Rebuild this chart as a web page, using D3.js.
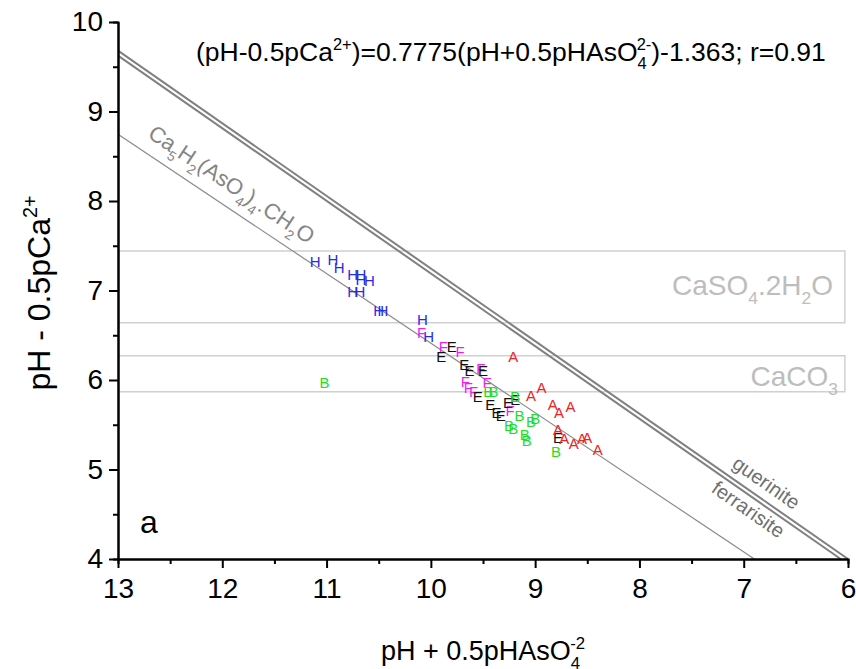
<!DOCTYPE html>
<html>
<head>
<meta charset="utf-8">
<script src="https://cdn.jsdelivr.net/npm/d3@7/dist/d3.min.js"></script>
<style>
  body { margin: 0; background: #fff; }
  svg text { font-family: "Liberation Sans", Arial, sans-serif; }
</style>
</head>
<body>
<div id="chart"></div>
<script>
var width = 856, height = 669;
var plot = { left: 118, right: 848, top: 22, bottom: 559 };

// samples, [x, y] = [pH + 0.5pHAsO4, pH - 0.5pCa]
var seriesH = [[11.11, 7.32], [10.94, 7.35], [10.88, 7.26], [10.75, 7.18], [10.67, 7.18], [10.67, 7.12],
  [10.59, 7.11], [10.75, 6.99], [10.68, 6.99], [10.50, 6.77], [10.46, 6.77], [10.08, 6.68], [10.02, 6.49]];
var seriesF = [[10.09, 6.53], [9.88, 6.37], [9.72, 6.32], [9.52, 6.13], [9.67, 5.98], [9.46, 5.97],
  [9.64, 5.91], [9.59, 5.87], [9.24, 5.66]];
var seriesE = [[9.90, 6.26], [9.80, 6.37], [9.68, 6.17], [9.63, 6.11], [9.50, 6.11], [9.55, 5.82],
  [9.43, 5.72], [9.37, 5.64], [9.33, 5.60], [9.26, 5.75], [9.19, 5.78], [8.78, 5.36]];
var seriesB = [[11.02, 5.97], [9.45, 5.87], [9.40, 5.87], [9.19, 5.81], [9.15, 5.60], [9.04, 5.54],
  [9.00, 5.57], [9.25, 5.49], [9.21, 5.46], [9.10, 5.39], [9.08, 5.32], [8.80, 5.20]];
var seriesA = [[9.21, 6.26], [8.94, 5.91], [9.04, 5.83], [8.83, 5.72], [8.77, 5.64], [8.66, 5.70],
  [8.78, 5.45], [8.72, 5.35], [8.63, 5.29], [8.55, 5.35], [8.50, 5.36], [8.40, 5.22]];

var seriesNames = ['H', 'F', 'E', 'B', 'A'];
var seriesColors = ['#2a2ae6', '#f01ef0', '#111111', '#22dd22', '#ee2222'];

// regression (pH-0.5pCa) = 0.7775 (pH+0.5pHAsO4) - 1.363
var regSlope = 0.7775, regIntercept = -1.363;
// solubility lines, end points
var guerinite = [[13, 9.68], [6.0, 4.0]];
var ferrarisite = [[13, 9.625], [6.07, 4.0]];
// horizontal bands [low, high]
var gypsumBand = [6.64, 7.44];
var calciteBand = [5.87, 6.27];
var bandEnd = 6.03;

var xTicks = [13, 12, 11, 10, 9, 8, 7, 6];
var xMinor = [12.5, 11.5, 10.5, 9.5, 8.5, 7.5, 6.5];
var yTicks = [4, 5, 6, 7, 8, 9, 10];
var yMinor = [4.5, 5.5, 6.5, 7.5, 8.5, 9.5];

var svg = d3.select('#chart')
  .append('svg')
  .attr('width', width)
  .attr('height', height);

var xScale = d3.scaleLinear().domain([13, 6]).range([plot.left, plot.right]);
var yScale = d3.scaleLinear().domain([4, 10]).range([plot.bottom, plot.top]);

// text with sub / superscripts, parts = [[text, 'sub'|'sup'|undefined, dx], ...]
function richText(sel, parts, size) {
  var shift = 0;
  parts.forEach(function (p) {
    var small = size * 0.62;
    var target = p[1] === 'sub' ? size * 0.32 : p[1] === 'sup' ? -size * 0.42 : 0;
    var ts = sel.append('tspan')
      .style('font-size', (p[1] ? small : size) + 'px')
      .text(p[0]);
    if (target - shift) ts.attr('dy', target - shift);
    if (p[2]) ts.attr('dx', p[2]);
    shift = target;
  });
}

// bands
[gypsumBand, calciteBand].forEach(function (b) {
  svg.append('path')
    .attr('d', d3.line()([[xScale(13), yScale(b[1])], [xScale(bandEnd), yScale(b[1])],
      [xScale(bandEnd), yScale(b[0])], [xScale(13), yScale(b[0])]]))
    .attr('fill', 'none')
    .attr('stroke', '#d0d0d0')
    .attr('stroke-width', 1.5);
});

var line = d3.line()
  .x(function (d) { return xScale(d[0]); })
  .y(function (d) { return yScale(d[1]); });

// regression line
var regEnd = (4 - regIntercept) / regSlope;
svg.append('path')
  .attr('d', line([[13, regSlope * 13 + regIntercept], [regEnd, 4]]))
  .attr('stroke', '#8a8a8a')
  .attr('stroke-width', 1.2)
  .attr('fill', 'none');

[guerinite, ferrarisite].forEach(function (l) {
  svg.append('path')
    .attr('d', line(l))
    .attr('stroke', '#808080')
    .attr('stroke-width', 2)
    .attr('fill', 'none');
});

function angleOf(p0, p1) {
  return Math.atan2(yScale(p1[1]) - yScale(p0[1]), xScale(p1[0]) - xScale(p0[0])) * 180 / Math.PI;
}
function onLine(l, x) {
  var t = (x - l[0][0]) / (l[1][0] - l[0][0]);
  return [x, l[0][1] + t * (l[1][1] - l[0][1])];
}

// line labels
var regAngle = angleOf([13, regSlope * 13 + regIntercept], [regEnd, 4]);
var caLabel = svg.append('text')
  .attr('transform', 'translate(' + xScale(12.8) + ',' + yScale(regSlope * 12.8 + regIntercept) +
    ') rotate(' + regAngle + ') translate(0,-14)')
  .attr('fill', '#858585')
  .style('font-size', '22px');
richText(caLabel, [['Ca'], ['5', 'sub'], ['H'], ['2', 'sub'], ['(AsO'], ['4', 'sub'], [')'], ['4', 'sub'],
  ['.CH'], ['2', 'sub'], ['O']], 22);

var gAngle = angleOf(guerinite[0], guerinite[1]);
var gp = onLine(guerinite, 6.87);
svg.append('text')
  .attr('transform', 'translate(' + xScale(gp[0]) + ',' + yScale(gp[1]) + ') rotate(' + gAngle + ')')
  .attr('dy', -9)
  .attr('text-anchor', 'middle')
  .attr('fill', '#707070')
  .style('font-size', '20px')
  .text('guerinite');

var fp = onLine(ferrarisite, 6.89);
svg.append('text')
  .attr('transform', 'translate(' + xScale(fp[0]) + ',' + yScale(fp[1]) + ') rotate(' + gAngle + ')')
  .attr('dy', 19)
  .attr('text-anchor', 'middle')
  .attr('fill', '#707070')
  .style('font-size', '20px')
  .text('ferrarisite');

// band labels
var gypLabel = svg.append('text')
  .attr('x', 833).attr('y', 295)
  .attr('text-anchor', 'end')
  .attr('fill', '#bdbdbd')
  .style('font-size', '28px');
richText(gypLabel, [['CaSO'], ['4', 'sub'], ['.2H'], ['2', 'sub'], ['O']], 28);

var calLabel = svg.append('text')
  .attr('x', 838).attr('y', 386)
  .attr('text-anchor', 'end')
  .attr('fill', '#bdbdbd')
  .style('font-size', '28px');
richText(calLabel, [['CaCO'], ['3', 'sub']], 28);

// samples
[seriesH, seriesF, seriesE, seriesB, seriesA].forEach(function (s, i) {
  svg.selectAll('.pt' + i)
    .data(s)
    .enter()
    .append('text')
    .attr('class', 'pt' + i)
    .attr('x', function (d) { return xScale(d[0]); })
    .attr('y', function (d) { return yScale(d[1]); })
    .attr('dy', '0.36em')
    .attr('text-anchor', 'middle')
    .attr('fill', seriesColors[i])
    .style('font-size', '15px')
    .text(seriesNames[i]);
});

// axes
function styleAxis(g) {
  g.selectAll('path.domain').attr('stroke', '#000').attr('stroke-width', 2);
  g.selectAll('.tick line').attr('stroke', '#000').attr('stroke-width', 2);
  g.selectAll('.tick text')
    .attr('fill', '#000')
    .style('font-size', '28px')
    .style('font-family', '"Liberation Sans", Arial, sans-serif');
}

svg.append('g')
  .attr('transform', 'translate(0,' + plot.bottom + ')')
  .call(d3.axisBottom(xScale).tickValues(xMinor).tickSize(5).tickFormat(''))
  .call(styleAxis);
svg.append('g')
  .attr('transform', 'translate(' + plot.left + ',0)')
  .call(d3.axisLeft(yScale).tickValues(yMinor).tickSize(5).tickFormat(''))
  .call(styleAxis);

svg.append('g')
  .attr('transform', 'translate(0,' + plot.bottom + ')')
  .call(d3.axisBottom(xScale).tickValues(xTicks).tickSize(9).tickSizeOuter(0).tickPadding(10)
    .tickFormat(d3.format('d')))
  .call(styleAxis);
svg.append('g')
  .attr('transform', 'translate(' + plot.left + ',0)')
  .call(d3.axisLeft(yScale).tickValues(yTicks).tickSize(9).tickSizeOuter(0).tickPadding(6)
    .tickFormat(d3.format('d')))
  .call(styleAxis);

// titles
var eq = svg.append('text')
  .attr('x', 196).attr('y', 61)
  .attr('fill', '#000')
  .style('font-size', '26.5px');
richText(eq, [['(pH-0.5pCa'], ['2+', 'sup'], [')=0.7775(pH+0.5pHAsO'], ['4', 'sub'], ['2-', 'sup', -10],
  [')-1.363; r=0.91']], 26.5);

var xTitle = svg.append('text')
  .attr('x', 483).attr('y', 660)
  .attr('text-anchor', 'middle')
  .attr('fill', '#000')
  .style('font-size', '27px');
richText(xTitle, [['pH + 0.5pHAsO'], ['4', 'sub'], ['-2', 'sup', -10]], 27);

var yTitle = svg.append('text')
  .attr('transform', 'translate(50,293) rotate(-90)')
  .attr('text-anchor', 'middle')
  .attr('fill', '#000')
  .style('font-size', '32px');
richText(yTitle, [['pH - 0.5pCa'], ['2+', 'sup']], 32);

svg.append('text')
  .attr('x', 140).attr('y', 533)
  .attr('fill', '#000')
  .style('font-size', '32px')
  .text('a');
</script>
</body>
</html>
